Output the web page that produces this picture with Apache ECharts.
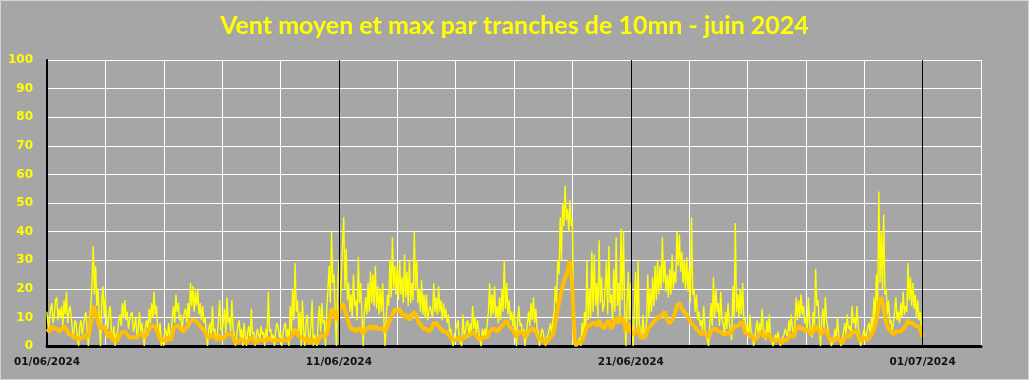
<!DOCTYPE html>
<html>
<head>
<meta charset="utf-8">
<script src="https://cdn.jsdelivr.net/npm/echarts@6/dist/echarts.min.js"></script>
<style>
html,body{margin:0;padding:0;background:#A6A6A6;}
#c{width:1029px;height:380px;}
</style>
</head>
<body>
<div id="c"></div>
<script>
// Title and axis labels
const titleText = 'Vent moyen et max par tranches de 10mn - juin 2024';
const dateLabels = ['01/06/2024', '11/06/2024', '21/06/2024', '01/07/2024'];
const labelEveryHours = 240;   // one date label every 10 days
const maxStepHours = 1;        // max values: one per hour from 01/06/2024 00:00
const meanStepHours = 2;       // mean values: one every 2 hours from 01/06/2024 00:00
const axisMaxHours = 768;      // axis runs to 03/07/2024
const separatorHours = [240, 480, 720];

// Vent max (km/h), 24 values per day
const maxWind = [
  12,6, 9,13, 15,8, 11,16, 17,9, 13,10, 14,7, 16,11, 19,8, 12,14, 10,5, 4,9,
  8,3, 0,7, 9,4, 7,10, 12,5, 0,9, 14,22, 35,18, 28,14, 20,8, 0,16, 21,10,
  17,9, 6,12, 14,5, 3,7, 0,4, 5,9, 11,7, 15,10, 16,9, 12,6, 9,11, 12,5,
  7,10, 3,6, 12,5, 8,4, 0,7, 9,5, 13,8, 15,10, 19,11, 14,6, 4,8, 0,3,
  0,6, 5,2, 8,4, 3,10, 14,8, 18,12, 15,9, 11,6, 9,12, 13,8, 15,10, 22,14,
  21,12, 19,14, 20,11, 15,9, 14,8, 10,4, 0,6, 8,3, 14,5, 6,2, 3,9, 16,6,
  5,9, 13,4, 17,8, 10,5, 16,6, 4,0, 0,7, 9,3, 6,0, 8,4, 0,5, 7,2,
  13,4, 5,0, 0,6, 6,2, 7,4, 5,0, 6,3, 19,5, 6,2, 4,0, 5,8, 7,3,
  5,0, 4,7, 8,3, 6,0, 14,5, 20,9, 29,12, 16,5, 12,0, 16,6, 0,8, 11,4,
  2,7, 16,0, 4,2, 0,9, 14,5, 15,8, 9,0, 12,20, 28,15, 40,22, 25,10, 0,20,
  30,14, 24,35, 45,20, 34,16, 22,12, 18,10, 25,14, 16,9, 31,15, 22,10, 0,12, 17,11,
  22,12, 26,15, 25,14, 28,13, 21,11, 20,12, 22,9, 0,10, 18,14, 30,17, 38,20, 28,18,
  28,16, 30,18, 24,15, 32,17, 26,14, 30,15, 22,16, 40,20, 30,15, 20,12, 23,11, 18,10,
  18,9, 12,14, 14,10, 22,12, 17,11, 21,12, 16,9, 15,10, 13,8, 11,5, 6,2, 0,4,
  4,7, 9,2, 2,0, 11,4, 5,8, 9,3, 8,5, 14,6, 10,4, 9,5, 2,0, 6,3,
  6,3, 8,12, 22,10, 18,11, 21,10, 14,8, 17,9, 20,12, 30,13, 22,11, 16,9, 12,7,
  12,6, 0,9, 14,7, 8,4, 6,0, 0,8, 12,7, 15,9, 17,8, 13,6, 5,0, 3,6,
  5,2, 0,3, 4,6, 8,4, 9,12, 21,15, 30,25, 45,30, 50,42, 56,44, 48,40, 51,42,
  44,10, 0,0, 0,1, 3,0, 8,2, 12,5, 30,9, 20,10, 33,12, 32,14, 22,10, 37,15,
  24,12, 14,20, 30,11, 35,15, 18,9, 27,12, 38,14, 22,10, 41,16, 40,12, 0,15, 26,9,
  22,6, 0,14, 26,5, 30,8, 8,3, 11,4, 5,8, 25,10, 20,12, 24,14, 28,16, 30,18,
  28,20, 38,22, 30,19, 25,17, 27,18, 32,20, 26,22, 40,28, 39,26, 33,22, 30,20, 31,19,
  27,15, 45,18, 20,12, 18,9, 12,7, 9,5, 14,6, 6,2, 0,8, 15,7, 24,10, 20,12,
  15,7, 19,9, 8,4, 12,6, 15,8, 5,2, 21,10, 43,12, 18,10, 20,11, 22,9, 10,4,
  7,3, 11,5, 4,0, 0,6, 9,4, 8,5, 13,6, 5,2, 9,4, 11,3, 3,0, 0,4,
  2,5, 5,0, 0,3, 4,6, 6,3, 9,5, 11,6, 4,8, 17,9, 16,10, 18,11, 14,8,
  10,5, 17,8, 8,3, 12,7, 27,14, 16,8, 0,9, 13,6, 17,9, 9,4, 4,0, 0,3,
  6,2, 10,4, 2,0, 0,5, 8,4, 11,6, 7,3, 14,8, 10,6, 14,7, 3,0, 0,4,
  6,3, 4,7, 8,4, 10,6, 17,9, 25,14, 54,22, 40,20, 46,18, 20,11, 16,8, 9,5,
  8,12, 17,9, 12,8, 15,10, 19,11, 14,12, 29,16, 24,14, 22,13, 18,10, 16,9, 12,7,
  8
];

// Vent moyen (km/h), 12 values per day
const meanWind = [
  6, 5, 7, 6, 6, 5, 6, 7, 6, 4, 4, 3,
  3, 2, 3, 3, 4, 3, 8, 14, 12, 8, 6, 7,
  6, 3, 5, 2, 2, 2, 4, 5, 5, 4, 3, 3,
  3, 3, 4, 4, 3, 4, 6, 7, 7, 6, 3, 2,
  2, 2, 3, 2, 6, 7, 7, 6, 5, 6, 7, 9,
  9, 9, 8, 7, 6, 5, 3, 3, 4, 3, 2, 4,
  2, 3, 4, 4, 4, 2, 1, 2, 2, 2, 1, 2,
  3, 2, 1, 2, 2, 2, 2, 3, 2, 2, 2, 2,
  2, 2, 2, 2, 3, 4, 6, 4, 3, 3, 2, 3,
  1, 2, 2, 1, 3, 4, 3, 4, 8, 13, 12, 9,
  12, 15, 14, 11, 8, 6, 6, 5, 6, 6, 4, 6,
  6, 7, 6, 7, 6, 6, 6, 5, 7, 9, 11, 13,
  12, 13, 11, 10, 11, 9, 11, 12, 10, 8, 7, 6,
  6, 5, 6, 8, 8, 7, 6, 5, 5, 4, 3, 2,
  2, 3, 2, 3, 3, 4, 4, 5, 4, 3, 2, 3,
  3, 3, 5, 6, 6, 5, 6, 7, 8, 9, 7, 6,
  5, 3, 5, 5, 4, 3, 5, 6, 6, 5, 3, 2,
  2, 1, 2, 3, 4, 8, 13, 17, 21, 24, 26, 30,
  20, 1, 1, 1, 2, 4, 7, 7, 8, 8, 7, 9,
  7, 6, 8, 9, 6, 8, 10, 8, 10, 9, 5, 8,
  5, 4, 5, 6, 3, 3, 3, 6, 7, 8, 9, 10,
  10, 11, 12, 9, 8, 9, 11, 14, 15, 13, 12, 11,
  9, 8, 7, 6, 5, 4, 5, 4, 3, 5, 6, 6,
  5, 5, 4, 4, 5, 4, 6, 7, 7, 8, 8, 5,
  4, 4, 3, 2, 3, 4, 5, 3, 4, 4, 2, 2,
  2, 2, 1, 2, 2, 3, 4, 3, 6, 7, 6, 6,
  5, 6, 4, 5, 7, 6, 4, 5, 6, 4, 2, 2,
  2, 3, 2, 1, 3, 4, 3, 5, 5, 5, 2, 2,
  3, 2, 3, 4, 6, 9, 15, 17, 13, 8, 6, 5,
  4, 5, 5, 5, 6, 7, 9, 8, 8, 7, 7, 6,
  3
];

const toPairs = (arr, step) => arr.map((v, i) => [i * step, v]);

const chart = echarts.init(document.getElementById('c'), null, {renderer: 'canvas'});
chart.setOption({
  backgroundColor: '#A6A6A6',
  animation: false,
  title: {
    text: titleText,
    left: 'center',
    top: 8,
    textStyle: {color: '#FFFF00', fontFamily: 'Lato', fontWeight: 'bold', fontSize: 25}
  },
  graphic: [{
    type: 'rect', silent: true, z: 100,
    shape: {x: 0.5, y: 0.5, width: 1028, height: 379},
    style: {fill: 'none', stroke: '#D4D4D4', lineWidth: 1}
  }],
  grid: {left: 47, right: 48, top: 60, bottom: 34, containLabel: false},
  xAxis: {
    type: 'value',
    min: 0, max: axisMaxHours, interval: 48,
    axisLine: {show: true, onZero: false, lineStyle: {color: '#000', width: 3}},
    axisTick: {show: false},
    splitLine: {show: true, lineStyle: {color: '#FFFFFF', width: 1}},
    axisLabel: {
      color: '#111', fontFamily: 'DejaVu Sans', fontWeight: 'bold', fontSize: 10.5, margin: 11,
      showMinLabel: true, showMaxLabel: false,
      formatter: v => (v % labelEveryHours === 0 ? (dateLabels[v / labelEveryHours] || '') : '')
    }
  },
  yAxis: {
    type: 'value',
    min: 0, max: 100, interval: 10,
    axisLine: {show: true, lineStyle: {color: '#000', width: 2}},
    axisTick: {show: false},
    splitLine: {show: true, lineStyle: {color: '#FFFFFF', width: 1}},
    axisLabel: {color: '#FFFF00', fontFamily: 'DejaVu Sans', fontWeight: 'bold', fontSize: 12, margin: 14}
  },
  series: [
    {
      name: 'Vent max', type: 'line', data: toPairs(maxWind, maxStepHours), symbol: 'none', z: 2,
      lineStyle: {color: '#FFFF00', width: 1.4}, itemStyle: {color: '#FFFF00'},
      markLine: {
        silent: true, symbol: 'none', label: {show: false},
        lineStyle: {color: '#000', width: 1, type: 'solid'},
        data: separatorHours.map(h => ({xAxis: h}))
      }
    },
    {
      name: 'Vent moyen', type: 'line', data: toPairs(meanWind, meanStepHours), symbol: 'none', z: 3,
      lineStyle: {color: '#FFC000', width: 4}, itemStyle: {color: '#FFC000'}
    }
  ]
});
</script>
</body>
</html>
